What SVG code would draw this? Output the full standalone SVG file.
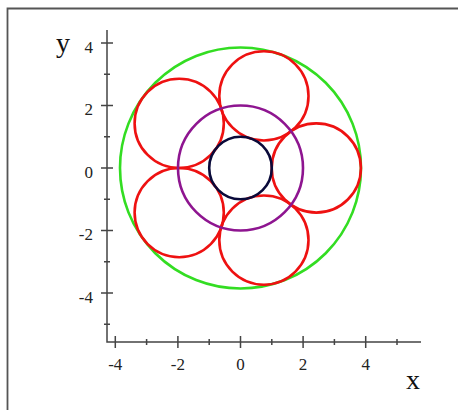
<svg xmlns="http://www.w3.org/2000/svg" width="458" height="410" viewBox="0 0 458 410">
<style>
.frame{fill:none;stroke:#555;stroke-width:1.8}
.ax{fill:none;stroke:#444;stroke-width:1.5}
.lbl{font-family:"Liberation Serif",serif;font-size:17px;fill:#222;text-anchor:middle}
.yl{text-anchor:end}
.big{font-family:"Liberation Serif",serif;font-size:28px;fill:#111;text-anchor:middle}
.c{fill:none;stroke-width:2.6}
.red{stroke:#ee1111}
</style>
<rect width="458" height="410" fill="#fff"/>
<path class="frame" d="M7.5,410 V8.5 H458"/>
<g id="axes">
<path class="ax" d="M107,30 V342 H421"/>
<path class="ax" d="M101,43 H113 M101,105.5 H113 M101,168 H113 M101,230.5 H113 M101,293 H113 M104,74.25 H110 M104,136.75 H110 M104,199.25 H110 M104,261.75 H110 M104,324.25 H110"/>
<path class="ax" d="M115.3,336 V348 M177.9,336 V348 M240.5,336 V348 M303.1,336 V348 M365.7,336 V348 M146.6,339 V345 M209.2,339 V345 M271.8,339 V345 M334.4,339 V345 M397,339 V345"/>
<text class="lbl yl" x="93" y="52.5">4</text>
<text class="lbl yl" x="93" y="115">2</text>
<text class="lbl yl" x="93" y="177.5">0</text>
<text class="lbl yl" x="93" y="240">-2</text>
<text class="lbl yl" x="93" y="302.5">-4</text>
<text class="lbl" x="115.3" y="369.5">-4</text>
<text class="lbl" x="177.9" y="369.5">-2</text>
<text class="lbl" x="240.5" y="369.5">0</text>
<text class="lbl" x="303.1" y="369.5">2</text>
<text class="lbl" x="365.7" y="369.5">4</text>
<text class="big" x="63" y="52">y</text>
<text class="big" x="413" y="389">x</text>
</g>
<g id="outer"><circle class="c" cx="240.5" cy="168" r="120.5" stroke="#33dd22" stroke-width="3"/></g>
<g id="red-circles">
<circle class="c red" cx="316.3" cy="168" r="44.6"/>
<circle class="c red" cx="263.9" cy="95.9" r="44.6"/>
<circle class="c red" cx="179.2" cy="123.4" r="44.6"/>
<circle class="c red" cx="179.2" cy="212.6" r="44.6"/>
<circle class="c red" cx="263.9" cy="240.1" r="44.6"/>
</g>
<g id="middle"><circle class="c" cx="240.5" cy="168" r="62.5" stroke="#8e1590"/></g>
<g id="inner"><circle class="c" cx="240.5" cy="168" r="31.3" stroke="#0a0a3a"/></g>
</svg>
